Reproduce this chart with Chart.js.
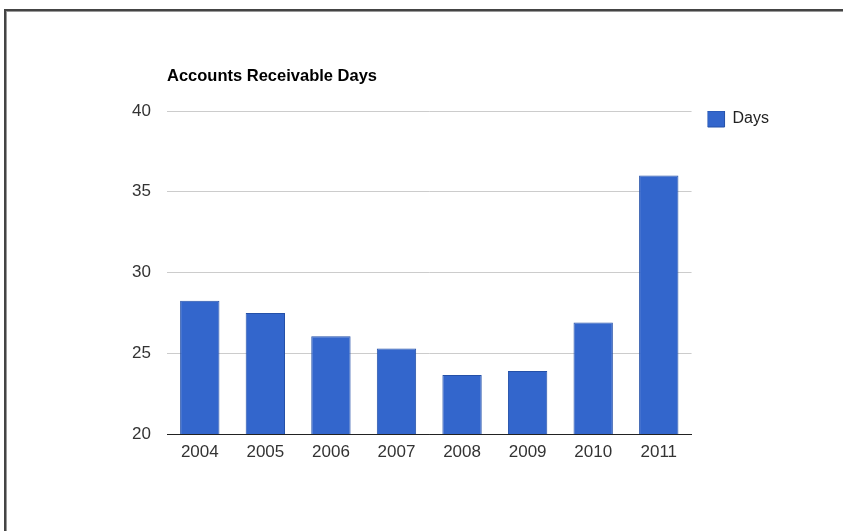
<!DOCTYPE html>
<html>
<head>
<meta charset="utf-8">
<script src="https://cdn.jsdelivr.net/npm/chart.js@4"></script>
<style>
  html, body { margin: 0; padding: 0; background: #fff; }
  #wrap { position: relative; width: 843px; height: 531px; overflow: hidden; }
  #frame {
    position: absolute; left: 4px; top: 9px; right: -10px; bottom: -10px;
    border-top: 2px solid #444; border-left: 2px solid #444;
    box-shadow: inset 1px 1px 0 #999;
    pointer-events: none;
  }
  canvas { position: absolute; left: 0; top: 0; }
</style>
</head>
<body>
<div id="wrap">
  <canvas id="chart" width="843" height="531"></canvas>
  <div id="frame"></div>
</div>
<script>
// values
const years = ['2004', '2005', '2006', '2007', '2008', '2009', '2010', '2011'];
const days = [28.25, 27.5, 26.05, 25.3, 23.65, 23.9, 26.9, 36.0];
const yTicks = [20, 25, 30, 35, 40];
const chartTitle = 'Accounts Receivable Days';
const seriesName = 'Days';

// title drawn left aligned over the plot, and legend nudged right
const titleAndLegend = {
    id: 'titleAndLegend',
    afterLayout(chart) {
        chart.legend.left += 16;
        chart.legend.right += 16;
    },
    afterDraw(chart) {
        const c = chart.ctx;
        c.save();
        c.font = 'bold 16.5px "Liberation Sans", Arial, sans-serif';
        c.fillStyle = '#000';
        c.textBaseline = 'alphabetic';
        c.textAlign = 'left';
        c.fillText(chartTitle, chart.chartArea.left, 81);
        c.restore();
    }
};

const ctx = document.getElementById('chart').getContext('2d');

new Chart(ctx, {
    type: 'bar',
    data: {
        labels: years,
        datasets: [{
            label: seriesName,
            data: days,
            backgroundColor: '#3366cc',
            borderColor: '#2450a8',
            borderWidth: 1,
            borderSkipped: false,
            barPercentage: 0.6,
            categoryPercentage: 1.0
        }]
    },
    options: {
        responsive: false,
        animation: false,
        layout: {
            padding: { left: 107, right: 80, top: 111, bottom: 57 }
        },
        plugins: {
            legend: {
                position: 'right',
                align: 'start',
                fullSize: false,
                labels: {
                    boxWidth: 17,
                    boxHeight: 16,
                    padding: 0,
                    color: '#222',
                    font: { family: '"Liberation Sans", Arial, sans-serif', size: 16 }
                }
            },
            title: { display: false },
            tooltip: { enabled: false }
        },
        scales: {
            x: {
                grid: { display: false, drawTicks: false },
                border: { display: true, color: '#222', width: 1 },
                ticks: {
                    padding: 8,
                    color: '#333',
                    font: { family: '"Liberation Sans", Arial, sans-serif', size: 17 }
                },
                afterFit(scale) { scale.height = 40; }
            },
            y: {
                min: 20,
                max: 40,
                afterBuildTicks(scale) {
                    scale.ticks = yTicks.map(v => ({ value: v }));
                },
                grid: {
                    drawTicks: false,
                    color: c => c.tick && c.tick.value === 20 ? '#222' : '#cccccc'
                },
                border: { display: false },
                ticks: {
                    padding: 16,
                    color: '#333',
                    font: { family: '"Liberation Sans", Arial, sans-serif', size: 17 }
                },
                afterFit(scale) { scale.width = 60; }
            }
        }
    },
    plugins: [titleAndLegend]
});
</script>
</body>
</html>
